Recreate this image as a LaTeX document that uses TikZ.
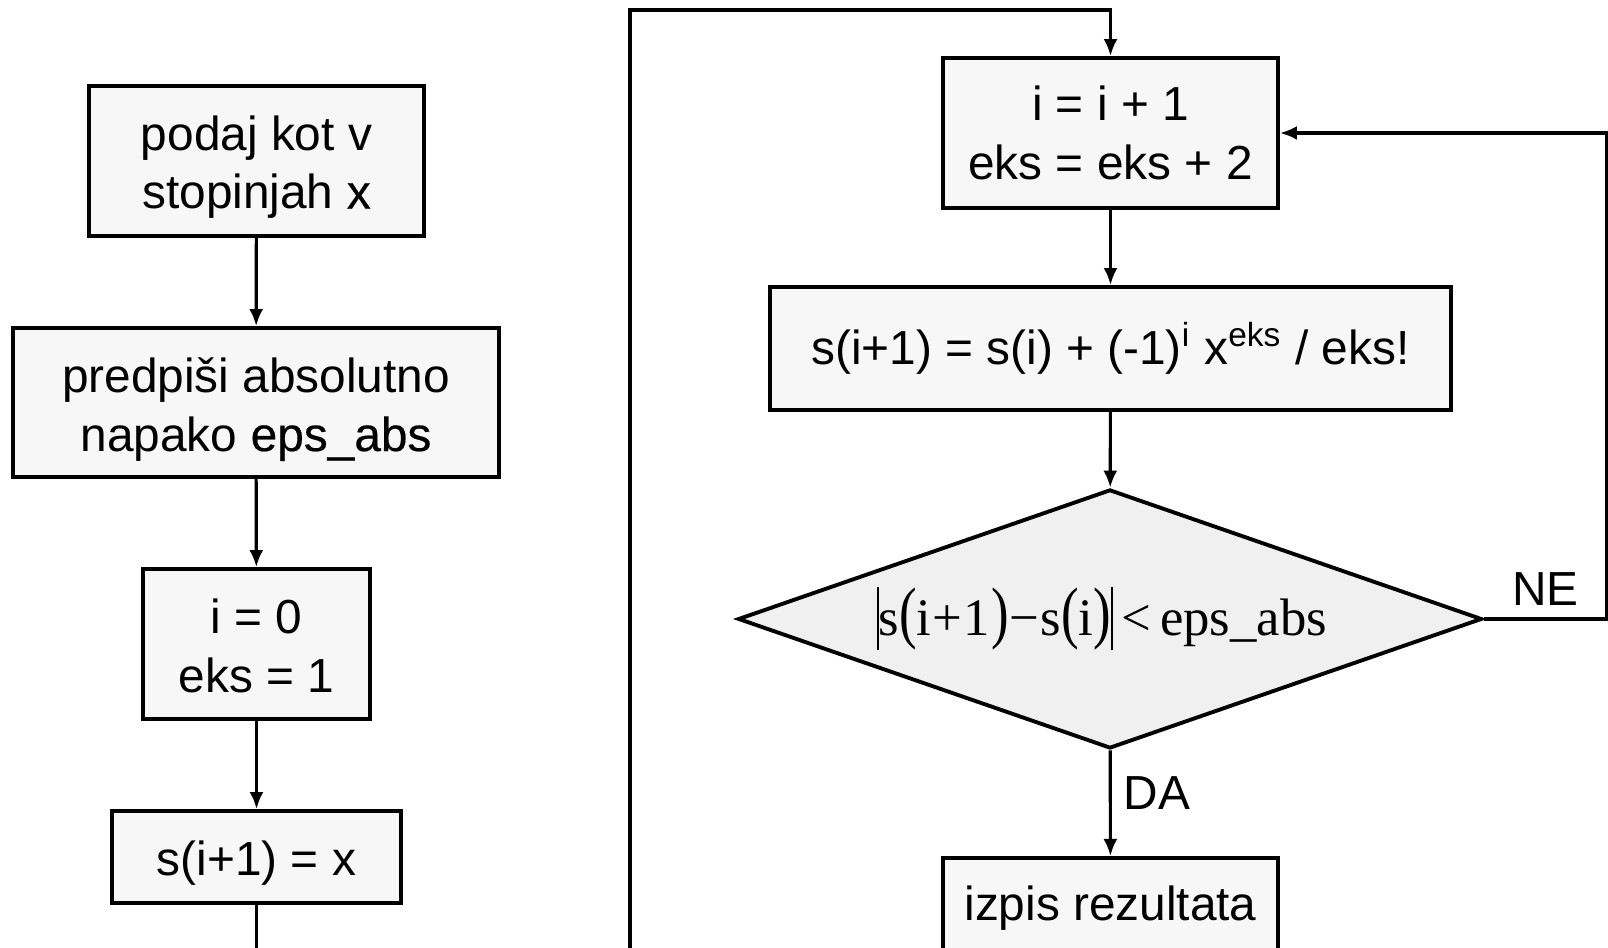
\documentclass[tikz,border=0pt]{standalone}
\usepackage{fontspec}
\usepackage{graphicx}
\setmainfont{Liberation Sans}
\newfontfamily\timesfont{Liberation Serif}
\newfontfamily\darkfont[FakeBold=0.4]{Liberation Sans}
\usetikzlibrary{arrows.meta,shapes.geometric}
\newcommand{\absbar}{\rule[-0.15cm]{0.5pt}{0.63cm}}
\newcommand{\tallp}[1]{\scalebox{1}[1.3]{#1}}
\newcommand{\gap}{\kern0.012cm}
\begin{document}
\begin{tikzpicture}[
        box/.style={draw, line width=1.1pt, fill=gray!6, align=center, inner sep=0pt},
        low/.style={text height=#1},
        test/.style={draw, line width=1.1pt, fill=gray!12, diamond, aspect=2.87, inner sep=0pt},
        arr/.style={line width=0.9pt, -{Latex[length=0.17cm,width=0.14cm]}},
        font=\fontsize{13.6}{16.6}\selectfont
    ]
        \useasboundingbox (0,0) rectangle (16.08,9.48);
        % levi stolpec
        \node[box, low=1.05cm, minimum width=3.35cm, minimum height=1.50cm] (podaj) at (2.565,7.87) {podaj kot v\\stopinjah {\darkfont x}};
        \node[box, low=1.07cm, minimum width=4.86cm, minimum height=1.49cm] (predpisi) at (2.56,5.455) {predpiši absolutno\\napako {\darkfont eps\_abs}};
        \node[box, low=0.97cm, minimum width=2.27cm, minimum height=1.50cm] (init) at (2.565,3.04) {i = 0\\eks = 1};
        \node[box, low=0.46cm, minimum width=2.89cm, minimum height=0.92cm] (s0) at (2.565,0.91) {s(i+1) = x};
        \coordinate (s0out) at (2.565,-0.2);
        \coordinate (loopin) at (6.30,-0.2);
        \coordinate (looptop) at (11.105,9.38);
        % desni stolpec
        \node[box, minimum width=3.35cm, minimum height=1.50cm] (inc) at (11.105,8.15) {i = i + 1\\eks = eks + 2};
        \node[box, minimum width=6.81cm, minimum height=1.23cm] (formula) at (11.105,5.995) {s(i+1) = s(i) + (-1)\textsuperscript{i} x\textsuperscript{eks} / eks!};
        \node[test, minimum width=7.44cm, minimum height=2.59cm] (cond) at (11.10,3.29) {\timesfont\fontsize{15}{15}\selectfont\absbar s\tallp{(}i\gap+\gap1\gap\tallp{)}\gap−\gap s\tallp{(}i\tallp{)}\absbar\,<\,eps\_abs\hspace*{0.16cm}};
        \node[box, anchor=north, minimum width=3.35cm, minimum height=1.0cm] (izpis) at (11.105,0.92) {izpis rezultata};

        \draw[arr] (podaj) -- (predpisi);
        \draw[arr] (predpisi) -- (init);
        \draw[arr] (init) -- (s0);
        \draw[line width=0.9pt] (s0) -- (s0out);
        \draw[arr] (loopin) |- (looptop) -- (inc);
        \draw[arr] (inc) -- (formula);
        \draw[arr] (formula) -- (cond);
        \draw[arr] (cond) -- node[right, pos=0.4] {DA} (izpis);
        \draw[arr] (cond.east) -- node[above] {NE} ++(1.23,0) |- (inc.east);
    \end{tikzpicture}
\end{document}
